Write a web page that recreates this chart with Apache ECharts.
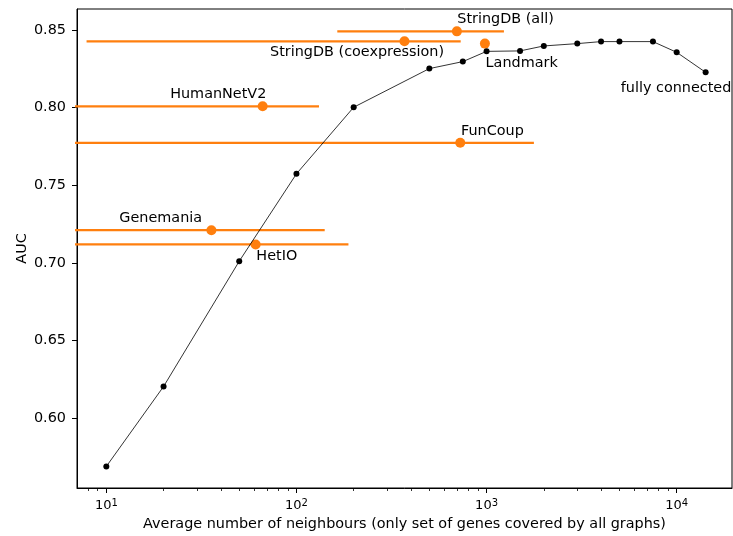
<!DOCTYPE html>
<html>
<head>
<meta charset="utf-8">
<script src="https://cdn.jsdelivr.net/npm/echarts@6/dist/echarts.min.js"></script>
<style>html,body{margin:0;padding:0;background:#fff}#c{width:733px;height:536px}</style>
</head>
<body>
<div id="c"></div>
<script>
// ---- data ----
const neighbours = [10, 20, 50, 100, 200, 500, 750, 1000, 1500, 2000, 3000, 4000, 5000, 7500, 10000, 14200];
const auc = [0.5688, 0.6203, 0.7010, 0.7573, 0.8002, 0.8251, 0.8296, 0.8362, 0.8365, 0.8397, 0.8412, 0.8425, 0.8425, 0.8425, 0.8356, 0.8227];
const lastLabel = 'fully connected';

const networkNames = ['StringDB (all)', 'StringDB (coexpression)', 'Landmark', 'HumanNetV2', 'FunCoup', 'Genemania', 'HetIO'];
const networkX = [698, 370, 980, 66.4, 727, 35.7, 61.0];
const networkAUC = [0.8491, 0.8427, 0.8412, 0.8008, 0.7773, 0.7210, 0.7118];
const networkLow = [164, 7.87, 980, 1, 1, 1, 1];
const networkHigh = [1234, 731, 980, 131.4, 1774, 140.8, 187.7];

const xTickValues = [10, 100, 1000, 10000];
const xMinorTickValues = [8, 9, 20, 30, 40, 50, 60, 70, 80, 90, 200, 300, 400, 500, 600, 700, 800, 900,
  2000, 3000, 4000, 5000, 6000, 7000, 8000, 9000];
const yTickValues = [0.60, 0.65, 0.70, 0.75, 0.80, 0.85];

const xTitle = 'Average number of neighbours (only set of genes covered by all graphs)';
const yTitle = 'AUC';

// ---- layout (not data) ----
const labelPlacement = [
  {align: 'left', offset: [0.4, -11.7]},
  {align: 'center', offset: [-47.4, 11.3]},
  {align: 'left', offset: [0.7, 19.7]},
  {align: 'right', offset: [3.7, -12.4]},
  {align: 'left', offset: [0.7, -11.1]},
  {align: 'right', offset: [-9.3, -11.9]},
  {align: 'left', offset: [0.7, 11.8]}
];
const lastPlacement = {align: 'right', offset: [25.7, 15.5]};

const FONT = 'DejaVu Sans';
const FS = 14.4;
const ORANGE = '#ff7f0e';
const xMin = 7.01, xMax = 19540, yMin = 0.5549, yMax = 0.8635;

const chart = echarts.init(document.getElementById('c'), null, {renderer: 'canvas'});

const series = [];
networkNames.forEach((n, i) => {
  series.push({
    type: 'line',
    name: n + ' range',
    data: [[networkLow[i], networkAUC[i]], [networkHigh[i], networkAUC[i]]],
    symbol: 'none',
    lineStyle: {color: ORANGE, width: 2.2, opacity: 1},
    clip: true,
    silent: true,
    z: 2,
    animation: false
  });
});
series.push({
  type: 'scatter',
  name: 'networks',
  data: networkNames.map((n, i) => ({
    value: [networkX[i], networkAUC[i]],
    label: {
      show: true,
      formatter: n,
      position: 'inside',
      align: labelPlacement[i].align,
      verticalAlign: 'middle',
      offset: labelPlacement[i].offset,
      color: '#000',
      opacity: 1,
      fontFamily: FONT,
      fontSize: FS
    }
  })),
  symbol: 'circle',
  symbolSize: 10,
  itemStyle: {color: ORANGE, opacity: 1},
  z: 3,
  silent: true,
  animation: false
});
series.push({
  type: 'line',
  name: 'neighbours',
  data: neighbours.map((x, i) => {
    const item = {value: [x, auc[i]]};
    if (i === neighbours.length - 1) {
      item.label = {
        show: true,
        formatter: lastLabel,
        position: 'inside',
        align: lastPlacement.align,
        verticalAlign: 'middle',
        offset: lastPlacement.offset,
        color: '#000',
        fontFamily: FONT,
        fontSize: FS
      };
    }
    return item;
  }),
  symbol: 'circle',
  symbolSize: 6,
  showAllSymbol: true,
  itemStyle: {color: '#000', opacity: 1},
  lineStyle: {color: '#000', width: 0.8},
  z: 4,
  silent: true,
  animation: false
});

chart.setOption({
  animation: false,
  backgroundColor: '#fff',
  textStyle: {fontFamily: FONT},
  grid: {left: 77, right: 1, top: 9, bottom: 48, show: true, borderColor: '#000', borderWidth: 1, backgroundColor: 'transparent'},
  xAxis: [{
    type: 'log',
    logBase: 10,
    min: xMin,
    max: xMax,
    name: xTitle,
    nameLocation: 'middle',
    nameGap: 29,
    nameMoveOverlap: false,
    nameTextStyle: {fontSize: FS, color: '#000', fontFamily: FONT},
    axisLine: {show: true, lineStyle: {color: '#000', width: 1}},
    axisTick: {show: true, length: 5, lineStyle: {color: '#000', width: 1}, customValues: xTickValues},
    minorTick: {show: false},
    splitLine: {show: false},
    axisLabel: {
      customValues: xTickValues,
      margin: 10,
      color: '#000',
      formatter: v => '{b|10}{s|' + Math.round(Math.log10(v)) + '}',
      rich: {
        b: {fontSize: 13, fontFamily: FONT, color: '#000', lineHeight: 15},
        s: {fontSize: 10, fontFamily: FONT, color: '#000', verticalAlign: 'top', lineHeight: 10}
      }
    }
  }, {
    type: 'log',
    logBase: 10,
    min: xMin,
    max: xMax,
    position: 'bottom',
    axisLine: {show: false},
    axisTick: {show: true, length: 3, lineStyle: {color: '#000', width: 0.8}, customValues: xMinorTickValues},
    axisLabel: {show: false},
    splitLine: {show: false}
  }],
  yAxis: {
    type: 'value',
    min: yMin,
    max: yMax,
    name: yTitle,
    nameLocation: 'middle',
    nameGap: 48,
    nameMoveOverlap: false,
    nameTextStyle: {fontSize: FS, color: '#000', fontFamily: FONT},
    axisLine: {show: true, lineStyle: {color: '#000', width: 1}},
    axisTick: {show: true, length: 5, lineStyle: {color: '#000', width: 1}, customValues: yTickValues},
    splitLine: {show: false},
    axisLabel: {
      customValues: yTickValues,
      margin: 11,
      color: '#000',
      fontSize: FS,
      fontFamily: FONT,
      formatter: v => v.toFixed(2)
    }
  },
  series: series
});
</script>
</body>
</html>
